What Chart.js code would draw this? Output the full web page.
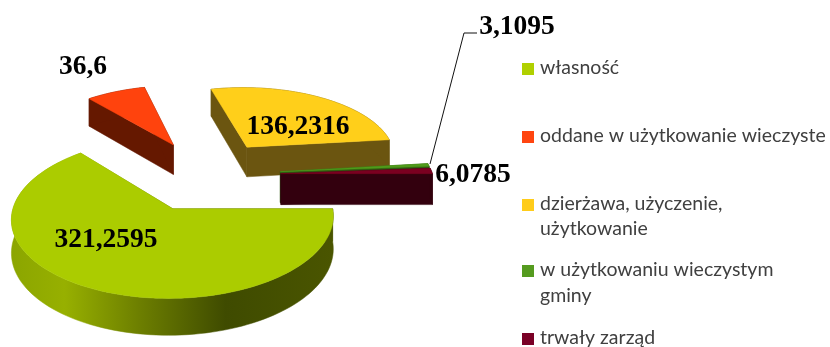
<!DOCTYPE html>
<html><head><meta charset="utf-8">
<style>html,body{margin:0;padding:0;background:#fff}canvas{display:block}</style>
<script src="https://cdn.jsdelivr.net/npm/chart.js@4"></script>
</head><body><canvas id="c" width="830" height="347"></canvas>
<script>
const categoryLines = [['własność'],['oddane w użytkowanie wieczyste'],['dzierżawa, użyczenie,','użytkowanie'],['w użytkowaniu wieczystym','gminy'],['trwały zarząd']];
const values = [321.2595, 36.6, 136.2316, 3.1095, 6.0785];
const valueTexts = ['321,2595','36,6','136,2316','3,1095','6,0785'];
const topColors = ['#abcc00','#ff430d','#ffcf1a','#4f9a1a','#7a0020'];
const legendColors = ['#b0d000','#ff4510','#ffcc1a','#559b1f','#7a0026'];
const wallColors = [null,'#651800','#6b5510','#2f5a10','#33000e'];

// layout (not data)
const legendY = [[68],[136],[204,229],[270,296],[338]];
const labelPos = [[106,240],[83,67],[298,127],[517,27],[473,175]];
const leader = [[430,164],[464,33],[477,33]];
const drawOrder = [1,2,3,4,0];
const K = 0.472, P = 0.00072, DEPTH = 31;

function project(cx,cy,wx,wy){
  const s = 1/(1+P*wy);
  return {x:cx+wx*s, y:cy-K*wy*s, dy:DEPTH*s};
}
function sliceOutline(arc){
  const {x:cx,y:cy,startAngle:a0,endAngle:a1,outerRadius:R}=arc;
  const mid=(a0+a1)/2, off=arc.options.offset;
  const ox=Math.cos(mid)*off, oy=-Math.sin(mid)*off;
  const apex=project(cx,cy,ox,oy);
  const n=Math.max(2,Math.ceil((a1-a0)/(Math.PI/90)));
  const rim=[];
  for(let i=0;i<=n;i++){
    const a=a0+(a1-a0)*i/n;
    rim.push(project(cx,cy,ox+Math.cos(a)*R,oy-Math.sin(a)*R));
  }
  return {apex,rim};
}
function poly(ctx,pts,fill){
  ctx.beginPath();
  pts.forEach((p,i)=>i?ctx.lineTo(p.x,p.y):ctx.moveTo(p.x,p.y));
  ctx.closePath();
  ctx.fillStyle=fill;ctx.fill();
  ctx.strokeStyle=fill;ctx.lineWidth=0.5;ctx.stroke();
}
const down=p=>({x:p.x,y:p.y+p.dy});
const pie3d={
  id:'pie3d',
  beforeDatasetsDraw(chart){
    const ctx=chart.ctx, arcs=chart.getDatasetMeta(0).data;
    ctx.save();
    drawOrder.forEach(i=>{
      const {apex,rim}=sliceOutline(arcs[i]);
      let wall=wallColors[i];
      if(i===0){
        wall=ctx.createLinearGradient(10,0,332,0);
        wall.addColorStop(0,'#8ba500');
        wall.addColorStop(0.17,'#97b000');
        wall.addColorStop(0.4,'#6d7f00');
        wall.addColorStop(0.67,'#3f4b00');
        wall.addColorStop(1,'#4a5500');
      }
      poly(ctx,[apex,rim[0],down(rim[0]),down(apex)],wall);
      poly(ctx,[apex,rim[rim.length-1],down(rim[rim.length-1]),down(apex)],wall);
      poly(ctx,rim.concat(rim.slice().reverse().map(down)),wall);
      poly(ctx,[apex].concat(rim),topColors[i]);
    });
    ctx.restore();
    return false;
  },
  afterDraw(chart){
    const ctx=chart.ctx;
    ctx.save();
    ctx.strokeStyle='#111';ctx.lineWidth=1;
    ctx.beginPath();
    leader.forEach((p,i)=>i?ctx.lineTo(p[0],p[1]):ctx.moveTo(p[0],p[1]));
    ctx.stroke();
    ctx.fillStyle='#000';ctx.font='bold 27.5px "Liberation Serif"';
    ctx.textAlign='center';ctx.textBaseline='middle';
    valueTexts.forEach((t,i)=>ctx.fillText(t,labelPos[i][0],labelPos[i][1]));
    ctx.font='19.5px Lato';ctx.textAlign='left';
    categoryLines.forEach((lines,i)=>{
      ctx.fillStyle=legendColors[i];
      ctx.fillRect(522,legendY[i][0]-5,12,12);
      ctx.fillStyle='#404040';
      lines.forEach((l,j)=>ctx.fillText(l,540,legendY[i][j]));
    });
    ctx.restore();
  }
};
new Chart(document.getElementById('c'),{
  type:'pie',
  data:{labels:categoryLines.map(l=>l.join(' ')),datasets:[{data:values,backgroundColor:topColors,offset:75,borderWidth:0}]},
  options:{
    responsive:false,animation:false,rotation:90,radius:152,
    layout:{padding:{top:3,right:418,bottom:0,left:0}},
    plugins:{legend:{display:false},tooltip:{enabled:false}}
  },
  plugins:[pie3d]
});
</script></body></html>
